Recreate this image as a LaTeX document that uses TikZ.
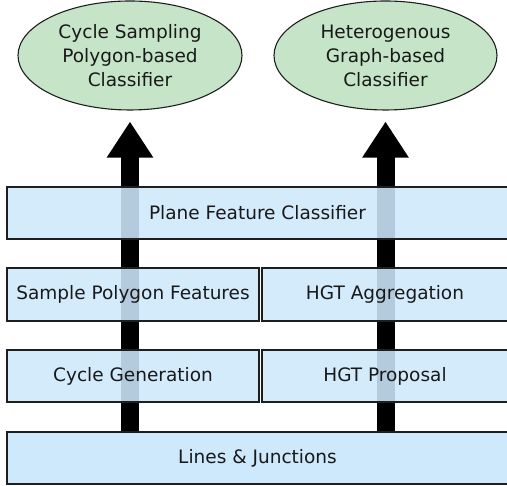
\documentclass[tikz,border=0pt]{standalone}
\usepackage{fontspec}
\setmainfont{DejaVu Sans}
\usetikzlibrary{arrows.meta,shapes.geometric}
\definecolor{boxfill}{HTML}{CEE8FC}
\definecolor{ellfill}{HTML}{C6E5C8}
\definecolor{edge}{HTML}{1E1E1E}
\begin{document}
\begin{tikzpicture}[x=1pt,y=1pt,
  layer/.style={draw=edge,line width=1.1pt,fill=boxfill,fill opacity=0.88,text opacity=1,
    inner sep=0pt,font=\fontsize{18.5}{24}\selectfont,text=black!90},
  goal/.style={ellipse,draw=edge,line width=1.1pt,fill=ellfill,inner sep=0pt,align=center,
    font=\fontsize{18.5}{24}\selectfont,text=black!90},
  flow/.style={line width=18pt,-{Triangle[width=44pt,length=36pt]},shorten >=11pt}]
\useasboundingbox (0,0) rectangle (507,486);
% ellipses
\node[goal,minimum width=224pt,minimum height=109pt] (csp) at (130,430.5)
  {Cycle Sampling\\Polygon-based\\Classifier};
\node[goal,minimum width=223pt,minimum height=109pt] (hgc) at (385.5,430.5)
  {Heterogenous\\Graph-based\\Classifier};
% bottom layer (opaque base)
\node[layer,fill opacity=1,minimum width=501pt,minimum height=52pt] (lj) at (257.5,28) {Lines \& Junctions};
% arrows
\draw[flow] (lj.north -| csp.south) -- (csp.south);
\draw[flow] (lj.north -| hgc.south) -- (hgc.south);
% layers
\node[layer,minimum width=501pt,minimum height=52pt] (pfc) at (257.5,273) {Plane Feature Classifier};
\node[layer,minimum width=252pt,minimum height=53pt] (spf) at (133,191.5) {Sample Polygon Features};
\node[layer,minimum width=246pt,minimum height=53pt] (hgta) at (385,191.5) {HGT Aggregation};
\node[layer,minimum width=252pt,minimum height=52pt] (cg) at (133,110) {Cycle Generation};
\node[layer,minimum width=246pt,minimum height=52pt] (hgtp) at (385,110) {HGT Proposal};
\end{tikzpicture}
\end{document}
